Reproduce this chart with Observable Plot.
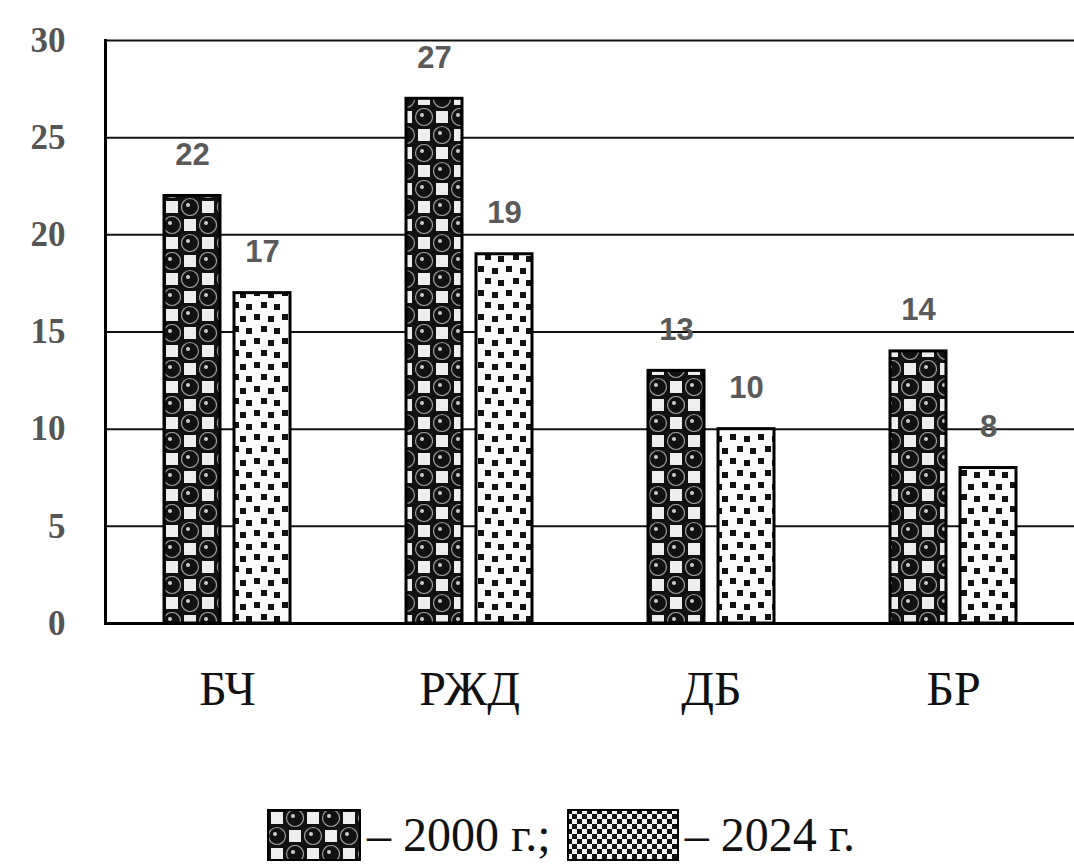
<!DOCTYPE html>
<html>
<head>
<meta charset="utf-8">
<script src="https://cdn.jsdelivr.net/npm/d3@7"></script>
<script src="https://cdn.jsdelivr.net/npm/@observablehq/plot@0.6"></script>
<style>
  html, body { margin: 0; padding: 0; background: #fff; }
  #chart svg { display: block; }
  #chart [aria-label="y-axis tick label"] { font-family: "Liberation Serif", "Times New Roman", serif !important; font-weight: bold; }
  .legend { display: flex; align-items: center; justify-content: center; margin-top: 4px; padding-left: 64px;
            font-family: "Liberation Serif", "Times New Roman", serif; font-size: 48px; color: #111; height: 52px; }
  .legend svg { display: block; }
  .legend .lbl { margin: 0 16px 0 6px; white-space: pre; line-height: 52px; }
</style>
</head>
<body>
<div id="chart"></div>
<div class="legend" id="legend"></div>
<script>
const categories = ["БЧ", "РЖД", "ДБ", "БР"];
const values2000 = [22, 27, 13, 14];
const values2024 = [17, 19, 10, 8];
const yTicks = [0, 5, 10, 15, 20, 25, 30];
const seriesLabels = ["– 2000 г.;", "– 2024 г."];

const d2000 = categories.map((c, i) => ({cat: c, value: values2000[i]}));
const d2024 = categories.map((c, i) => ({cat: c, value: values2024[i]}));

const valueFont = {fontFamily: "'Liberation Sans', Arial, sans-serif", fontSize: 31, fontWeight: "bold", fill: "#5a5a5a"};

const chart = Plot.plot({
  width: 1074,
  height: 805,
  marginTop: 40,
  marginBottom: 182,
  marginLeft: 105,
  marginRight: 0,
  x: {domain: categories, padding: 0, label: null},
  y: {domain: [0, 30], ticks: yTicks, label: null},
  marks: [
    Plot.ruleY(yTicks.slice(1), {stroke: "#111", strokeWidth: 2}),
    Plot.barY(d2000, {x: "cat", y: "value", fill: "url(#p2000)", stroke: "#000", strokeWidth: 3, insetLeft: 58, insetRight: 128}),
    Plot.barY(d2024, {x: "cat", y: "value", fill: "url(#p2024)", stroke: "#000", strokeWidth: 3, insetLeft: 128, insetRight: 58}),
    Plot.text(d2000, {x: "cat", y: "value", text: d => String(d.value), dx: -35, dy: -41, lineAnchor: "middle", ...valueFont}),
    Plot.text(d2024, {x: "cat", y: "value", text: d => String(d.value), dx: 35, dy: -41, lineAnchor: "middle", ...valueFont}),
    Plot.ruleY([0], {stroke: "#000", strokeWidth: 3}),
    Plot.frame({anchor: "left", stroke: "#000", strokeWidth: 3}),
    Plot.axisY({ticks: yTicks, tickSize: 0, tickPadding: 40, fontFamily: "'Liberation Serif', serif", fontSize: 35, fontWeight: "bold", fill: "#555", label: null}),
    Plot.axisX({tickSize: 0, tickPadding: 47, fontFamily: "'Liberation Serif', serif", fontSize: 48, fill: "#111", label: null})
  ]
});

const defs = `
<defs>
  <pattern id="p2000" width="36" height="36" patternUnits="userSpaceOnUse" x="1" y="0">
    <rect width="36" height="36" fill="#111"/>
    <rect x="3" y="3" width="12" height="12" fill="#eee"/>
    <rect x="21" y="21" width="12" height="12" fill="#eee"/>
    <circle cx="27" cy="9" r="8.5" fill="#111" stroke="#999" stroke-width="1.2"/>
    <circle cx="9" cy="27" r="8.5" fill="#111" stroke="#999" stroke-width="1.2"/>
    <circle cx="25" cy="7" r="2" fill="#ccc"/>
    <circle cx="7" cy="25" r="2" fill="#ccc"/>
  </pattern>
  <pattern id="p2024" width="28" height="24" patternUnits="userSpaceOnUse">
    <rect width="28" height="24" fill="#fafafa"/>
    <rect x="2" y="2" width="6" height="6" fill="#111"/>
    <rect x="16" y="4" width="6" height="6" fill="#111"/>
    <rect x="9" y="14" width="6" height="6" fill="#111"/>
    <rect x="22" y="16" width="6" height="6" fill="#111"/>
  </pattern>
  <pattern id="p2024L" width="10" height="10" patternUnits="userSpaceOnUse">
    <rect width="10" height="10" fill="#f5f5f5"/>
    <rect x="0" y="0" width="5" height="5" fill="#111"/>
    <rect x="5" y="5" width="5" height="5" fill="#111"/>
  </pattern>
</defs>`;
chart.insertAdjacentHTML("afterbegin", defs);
document.getElementById("chart").appendChild(chart);

const legend = document.getElementById("legend");
const fills = ["url(#p2000)", "url(#p2024L)"];
const widths = [94, 112];
seriesLabels.forEach((lbl, i) => {
  const sw = document.createElementNS("http://www.w3.org/2000/svg", "svg");
  sw.setAttribute("width", widths[i]);
  sw.setAttribute("height", 52);
  sw.innerHTML = `<rect x="1" y="1" width="${widths[i] - 2}" height="50" fill="${fills[i]}" stroke="#000" stroke-width="2"/>`;
  legend.appendChild(sw);
  const span = document.createElement("span");
  span.className = "lbl";
  span.textContent = lbl;
  legend.appendChild(span);
});
</script>
</body>
</html>
